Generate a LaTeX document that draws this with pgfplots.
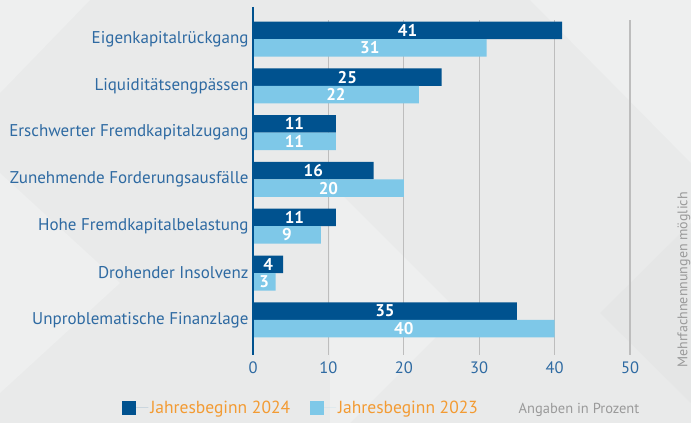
\documentclass[border=0pt]{standalone}
\usepackage{pgfplots}
\pgfplotsset{compat=1.18}
\usepackage{fontspec}
\setmainfont{PT Sans}
\definecolor{bg}{HTML}{E9EAEA}
\definecolor{bgl}{HTML}{EEEFEF}
\definecolor{bgd}{HTML}{E5E6E6}
\definecolor{dark}{HTML}{00528F}
\definecolor{light}{HTML}{7EC8E8}
\definecolor{lbl}{HTML}{2E6AA2}
\definecolor{org}{HTML}{F39B33}
\definecolor{gr}{HTML}{9A9A9A}
\definecolor{gridc}{HTML}{BDBDBD}
\begin{document}
\begin{tikzpicture}[x=1pt,y=1pt]
\fill[bg] (0,0) rectangle (691,423);
\useasboundingbox (0,0) rectangle (691,423);
\fill[bgl] (0,423) -- (90,423) -- (0,330) -- cycle;
\fill[bgl] (0,250) -- (120,140) -- (0,30) -- cycle;
\fill[bgl] (330,240) -- (460,110) -- (330,-20) -- cycle;
\fill[bgl] (530,423) -- (691,423) -- (691,260) -- cycle;
\fill[bgd] (691,200) -- (600,110) -- (691,20) -- cycle;
\begin{axis}[
  at={(253pt,68pt)}, anchor=south west, scale only axis,
  width=377pt, height=335pt,
  xmin=0, xmax=50, ymin=-0.406, ymax=6.752, y dir=reverse,
  clip=false,
  xbar, bar width=17.5pt,
  axis line style={draw=none},
  major tick length=0pt,
  xtick={0,10,20,30,40,50},
  xmajorgrids, grid style={color=gridc, line width=1.2pt},
  ytick={0,...,6},
  yticklabels={Eigenkapitalrückgang, Liquiditätsengpässen, Erschwerter Fremdkapitalzugang, Zunehmende Forderungsausfälle, Hohe Fremdkapitalbelastung, Drohender Insolvenz, Unproblematische Finanzlage},
  /pgf/number format/assume math mode=true,
  xticklabel style={font=\fontsize{16.5}{16.5}\selectfont, text=lbl, yshift=-3pt},
  yticklabel style={font=\fontsize{17}{17}\selectfont, text=lbl, xshift=-1pt},
  nodes near coords,
  visualization depends on={x \as \xv},
  every node near coord/.append style={anchor=center, text=white, font=\bfseries\fontsize{17}{17}\selectfont, shift={(axis direction cs:-\xv/2,0)}},
  legend columns=2,
  legend style={at={(rel axis cs:-0.347,-0.158)}, anchor=west, draw=none, fill=none, font=\fontsize{17.5}{17.5}\selectfont, text=org, inner sep=0pt, /tikz/every even column/.append style={column sep=18pt}},
  legend image code/.code={\fill[#1] (0pt,-7pt) rectangle (14pt,7pt); \path (0pt,0pt) -- (26pt,0pt);},
]
\addplot[fill=dark, draw=none, bar shift=8.75pt] coordinates {(41,0) (25,1) (11,2) (16,3) (11,4) (4,5) (35,6)};
\addlegendentry{Jahresbeginn 2024}
\addplot[fill=light, draw=none, bar shift=-8.75pt] coordinates {(31,0) (22,1) (11,2) (20,3) (9,4) (3,5) (40,6)};
\addlegendentry{Jahresbeginn 2023}
\draw[dark, line width=2.5pt] (axis cs:0,-0.684) -- (axis cs:0,6.752);
\end{axis}
\node[text=gr, font=\fontsize{14.5}{14.5}\selectfont] at (579,13) {Angaben in Prozent};
\node[text=gr, font=\fontsize{14}{14}\selectfont, rotate=90] at (684,143) {Mehrfachnennungen möglich};
\end{tikzpicture}
\end{document}
